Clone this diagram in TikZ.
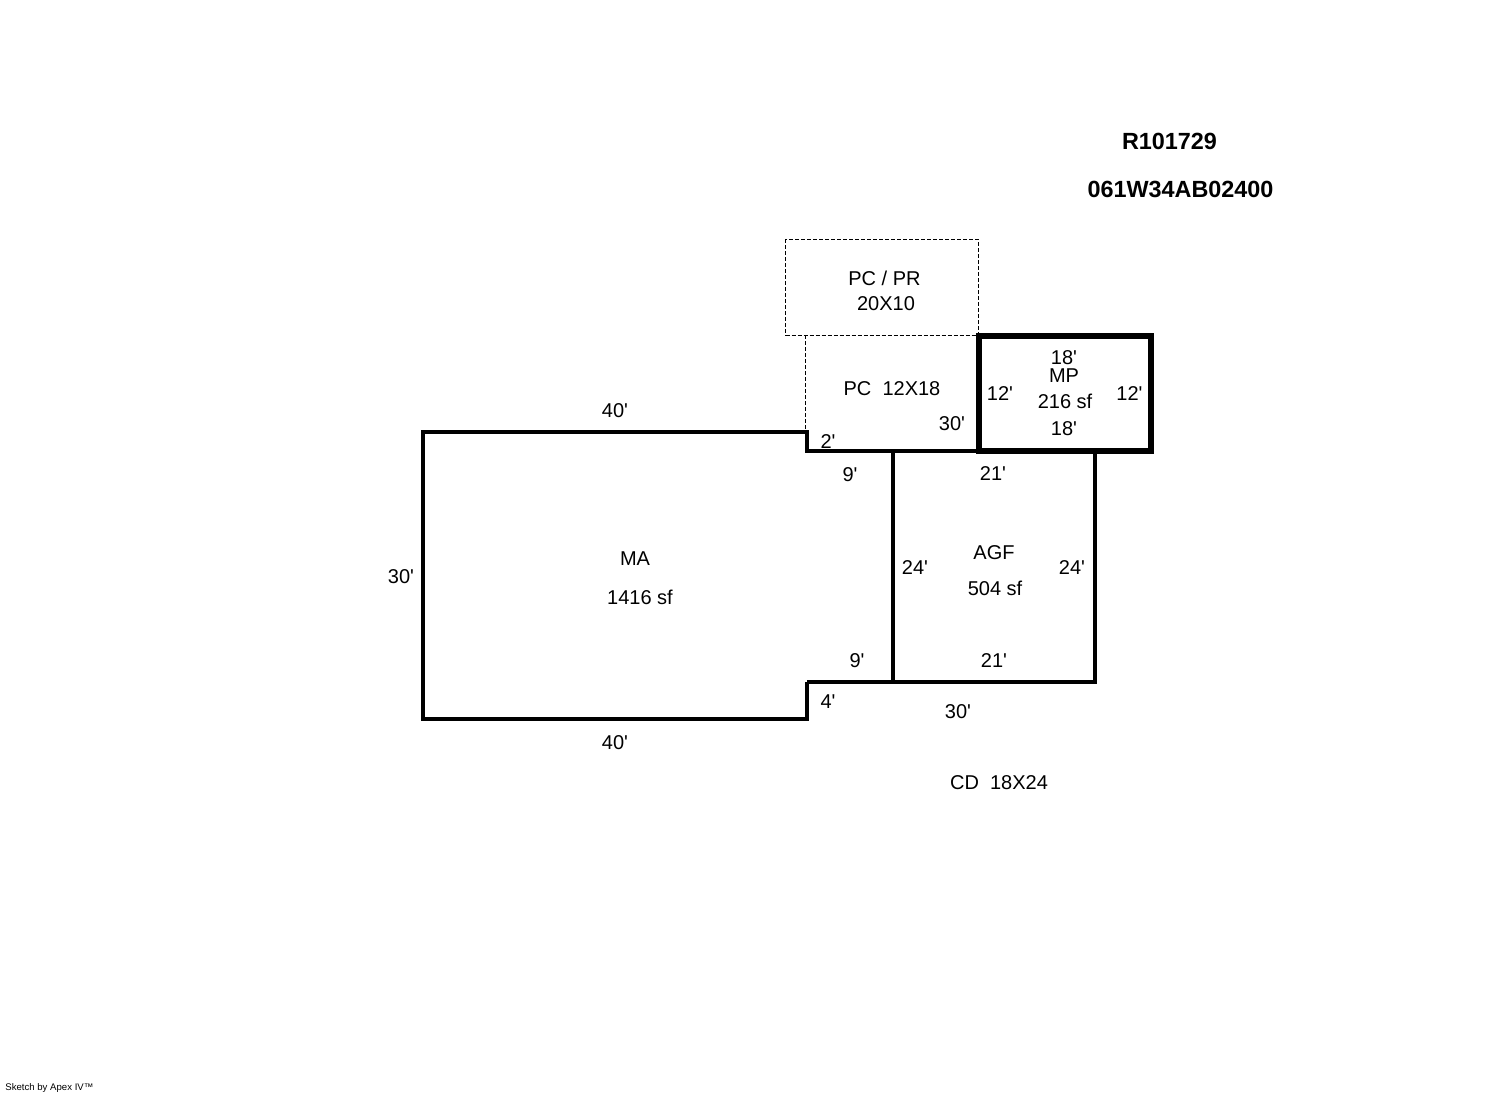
\documentclass[tikz,border=0pt]{standalone}
\usepackage{fontspec}
\setmainfont{Liberation Sans}[Ligatures=TeXOff]
\tikzset{
	wall/.style={line width=1.8pt, line join=miter},
	heavywall/.style={line width=2.7pt, line join=miter},
	porch/.style={line width=0.4pt, dash pattern=on 2pt off 1pt},
	lbl/.style={font=\fontsize{10}{12}\selectfont, inner sep=0pt},
	idlbl/.style={font=\fontsize{11.7}{14}\selectfont\bfseries, inner sep=0pt},
	creditlbl/.style={font=\fontsize{4.8}{6}\selectfont, inner sep=0pt, anchor=west}
}
\begin{document}
\begin{tikzpicture}[x=0.5pt, y=-0.5pt]
	\useasboundingbox (0,0) rectangle (1492,1094);
	% porches
	\draw[porch] (785.5,239) rectangle (978,335);
	\draw[porch] (805.5,335) -- (805.5,432);
	% main walls
	\draw[wall] (807,682) -- (807,719) -- (423,719) -- (423,432) -- (807,432) -- (807,451) -- (979,451);
	\draw[wall] (893,451) -- (893,682);
	\draw[wall] (807,682) -- (1095,682) -- (1095,451);
	\draw[heavywall] (979,336) rectangle (1151,451);
	% id
	\draw (1169.5,141) node[idlbl] (idR) {R101729};
	\draw (1180.5,189) node[idlbl] (idParcel) {061W34AB02400};
	% PC / PR
	\draw (884.5,278) node[lbl] (pcprName) {PC / PR};
	\draw (886,304) node[lbl] (pcprSize) {20X10};
	\draw (892,389) node[lbl] (pcSize) {PC\ \ 12X18};
	\draw (952,424) node[lbl] (pcB) {30'};
	\draw (828,442) node[lbl] (pcL) {2'};
	% MP
	\draw (1064,358) node[lbl] (mpT) {18'};
	\draw (1064,376) node[lbl] (mpName) {MP};
	\draw (1065,401) node[lbl] (mpArea) {216 sf};
	\draw (1000,394) node[lbl] (mpL) {12'};
	\draw (1129.5,394) node[lbl] (mpR) {12'};
	\draw (1064,429) node[lbl] (mpB) {18'};
	% MA
	\draw (615,411) node[lbl] (maT) {40'};
	\draw (401,577) node[lbl] (maL) {30'};
	\draw (635,559) node[lbl] (maName) {MA};
	\draw (640,597) node[lbl] (maArea) {1416 sf};
	\draw (850,475) node[lbl] (maNotchT) {9'};
	\draw (857,661) node[lbl] (maNotchB) {9'};
	\draw (828,702) node[lbl] (maStep) {4'};
	\draw (615,743) node[lbl] (maB) {40'};
	% AGF
	\draw (993,474) node[lbl] (agfT) {21'};
	\draw (915,567) node[lbl] (agfL) {24'};
	\draw (994,553) node[lbl] (agfName) {AGF};
	\draw (995,588) node[lbl] (agfArea) {504 sf};
	\draw (1072,567) node[lbl] (agfR) {24'};
	\draw (994,660) node[lbl] (agfB) {21'};
	\draw (958,712) node[lbl] (agfBelow) {30'};
	% CD
	\draw (999,783) node[lbl] (cdSize) {CD\ \ 18X24};
	% credit
	\draw (5,1088) node[creditlbl] (credit) {Sketch by Apex IV™};
\end{tikzpicture}
\end{document}
